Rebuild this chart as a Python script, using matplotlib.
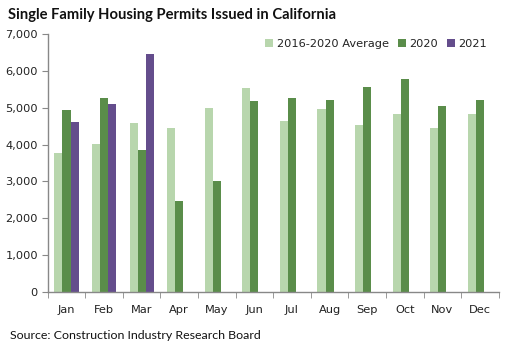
import matplotlib
matplotlib.use('Agg')
import matplotlib.pyplot as plt
import numpy as np

months = ['Jan', 'Feb', 'Mar', 'Apr', 'May', 'Jun', 'Jul', 'Aug', 'Sep', 'Oct', 'Nov', 'Dec']
avg_2016_2020 = [3780, 4020, 4590, 4450, 4995, 5540, 4630, 4970, 4535, 4835, 4455, 4835]
permits_2020 = [4940, 5265, 3860, 2475, 3020, 5185, 5265, 5210, 5565, 5780, 5050, 5210]
permits_2021 = [4620, 5100, 6460]

series = [
    ('2016-2020 Average', avg_2016_2020, '#b8d6ad'),
    ('2020', permits_2020, '#5a8d4a'),
    ('2021', permits_2021, '#644d8c'),
]

fig = plt.figure(figsize=(5.09, 3.44), dpi=100)
ax = fig.add_axes([0.0937, 0.151, 0.886, 0.750])

x = np.arange(len(months))
width = 0.215
for i, (name, vals, color) in enumerate(series):
    xs = x[:len(vals)] + (i - 1) * width
    ax.bar(xs, vals, width, color=color, label=name)

ax.set_xlim(-0.5, len(months) - 0.5)
ax.set_ylim(0, 7000)
ax.set_yticks(range(0, 7001, 1000))
ax.set_yticklabels([f'{v:,}' for v in range(0, 7001, 1000)], fontsize=8.2, color='#222222')
ax.set_xticks(x)
ax.set_xticklabels(months, fontsize=8.2, color='#222222')
ax.tick_params(axis='x', length=0, pad=9)
# category boundary ticks on the x axis
ax.set_xticks(np.arange(-0.5, len(months)), minor=True)
ax.tick_params(axis='x', which='minor', length=4, color='#888888', direction='out')
ax.tick_params(axis='y', length=4, color='#888888', direction='out', pad=3)

for side in ('top', 'right'):
    ax.spines[side].set_visible(False)
for side in ('left', 'bottom'):
    ax.spines[side].set_color('#888888')
    ax.spines[side].set_linewidth(1)

leg = ax.legend(loc='upper right', bbox_to_anchor=(0.985, 1.0), ncol=3, frameon=False,
                fontsize=8.2, handlelength=0.7, handleheight=0.7, handletextpad=0.3,
                columnspacing=0.8, borderaxespad=0)
for t in leg.get_texts():
    t.set_color('#222222')

fig.text(0.016, 0.955, 'Single Family Housing Permits Issued in California',
         fontsize=10.6, fontweight='bold', family='Lato', color='#111111', va='center')
fig.text(0.02, 0.025, 'Source: Construction Industry Research Board',
         fontsize=8.9, family='Lato', color='#111111', va='center')

fig.savefig('out.png', dpi=100)
